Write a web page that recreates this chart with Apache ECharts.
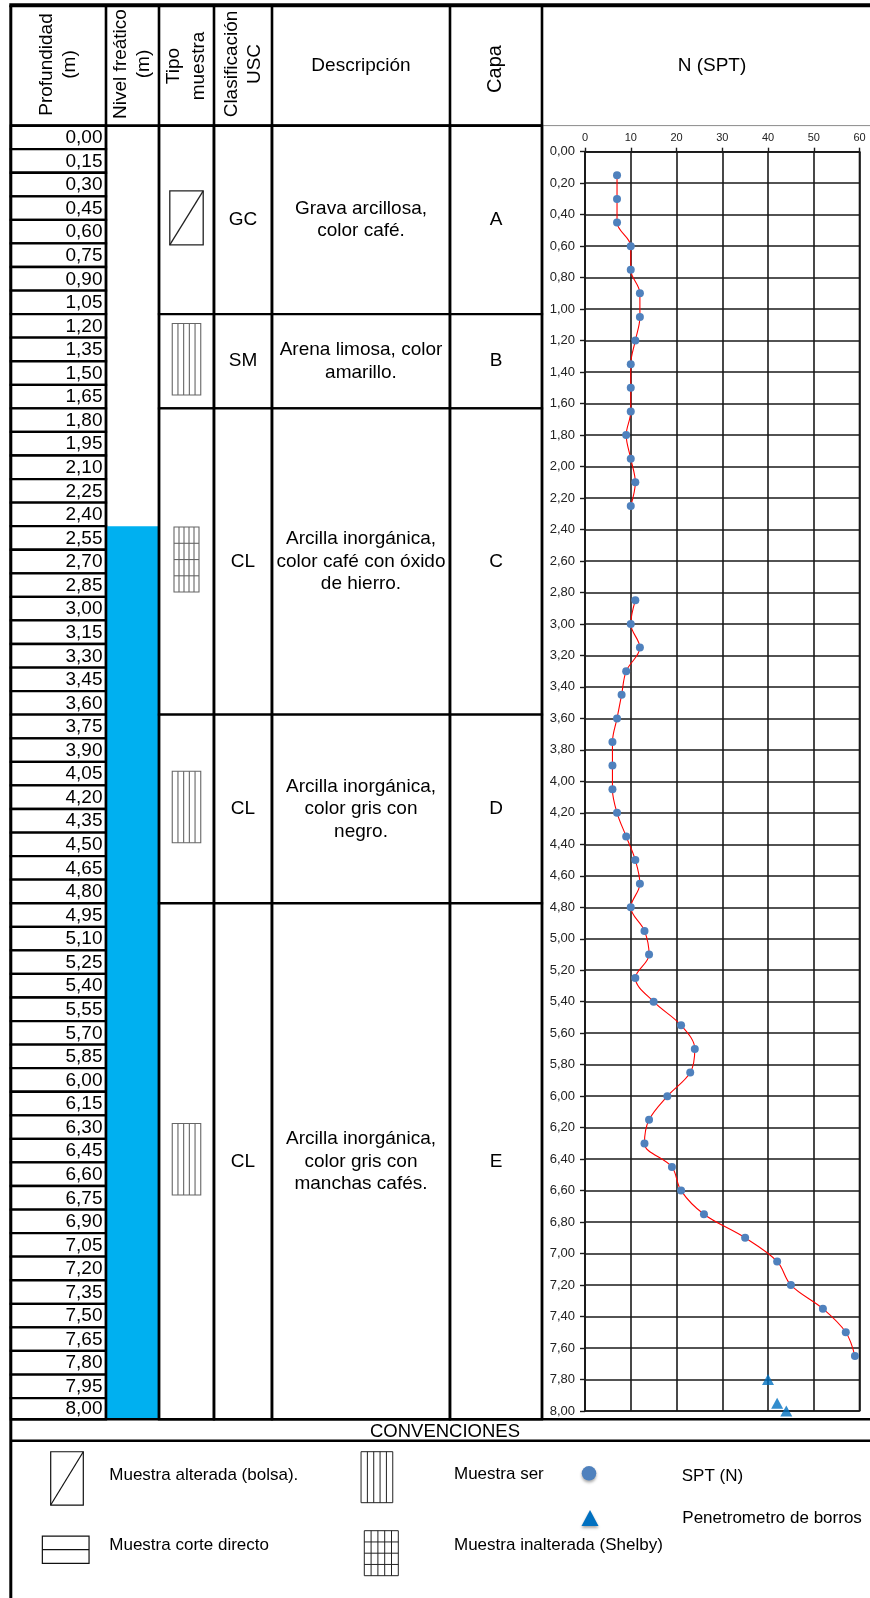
<!DOCTYPE html>
<html>
<head>
<meta charset="utf-8">
<title>Registro de perforación</title>
<script src="https://cdn.jsdelivr.net/npm/echarts@6/dist/echarts.min.js"></script>
<style>
  html, body { margin: 0; padding: 0; background: #fff; }
  #log { width: 870px; height: 1598px; }
</style>
</head>
<body>
<div id="log"></div>
<script>
// ---- Depth scale of the log (m) ----
const DEPTHS = [0.00, 0.15, 0.30, 0.45, 0.60, 0.75, 0.90, 1.05, 1.20, 1.35, 1.50, 1.65, 1.80, 1.95,
  2.10, 2.25, 2.40, 2.55, 2.70, 2.85, 3.00, 3.15, 3.30, 3.45, 3.60, 3.75, 3.90, 4.05, 4.20, 4.35,
  4.50, 4.65, 4.80, 4.95, 5.10, 5.25, 5.40, 5.55, 5.70, 5.85, 6.00, 6.15, 6.30, 6.45, 6.60, 6.75,
  6.90, 7.05, 7.20, 7.35, 7.50, 7.65, 7.80, 7.95, 8.00];

// ---- Water table (m) ----
const WATER_TOP = 2.55;
const WATER_BOTTOM = 8.00;

// ---- Soil layers ----
const LAYER_NAME = ['A', 'B', 'C', 'D', 'E'];
const LAYER_TOP = [0.00, 1.20, 1.80, 3.75, 4.95];
const LAYER_BOTTOM = [1.20, 1.80, 3.75, 4.95, 8.00];
const LAYER_USC = ['GC', 'SM', 'CL', 'CL', 'CL'];
const LAYER_SAMPLE = ['bolsa', 'servicio', 'shelby', 'servicio', 'servicio'];
const LAYER_DESC = [
  'Grava arcillosa,\ncolor café.',
  'Arena limosa, color\namarillo.',
  'Arcilla inorgánica,\ncolor café con óxido\nde hierro.',
  'Arcilla inorgánica,\ncolor gris con\nnegro.',
  'Arcilla inorgánica,\ncolor gris con\nmanchas cafés.'
];

// ---- SPT blow counts N vs depth (null = no test at that depth) ----
const SPT_DEPTH = [0.15, 0.30, 0.45, 0.60, 0.75, 0.90, 1.05, 1.20, 1.35, 1.50, 1.65, 1.80, 1.95,
  2.10, 2.25, 2.40, 2.55, 2.70, 2.85, 3.00, 3.15, 3.30, 3.45, 3.60, 3.75, 3.90, 4.05, 4.20, 4.35,
  4.50, 4.65, 4.80, 4.95, 5.10, 5.25, 5.40, 5.55, 5.70, 5.85, 6.00, 6.15, 6.30, 6.45, 6.60, 6.75,
  6.90, 7.05, 7.20, 7.35, 7.50, 7.65];
const SPT_N = [7, 7, 7, 10, 10, 12, 12, 11, 10, 10, 10, 9, 10,
  11, 10, null, null, null, 11, 10, 12, 9, 8, 7, 6, 6, 6, 7, 9,
  11, 12, 10, 13, 14, 11, 15, 21, 24, 23, 18, 14, 13, 19, 21, 26,
  35, 42, 45, 52, 57, 59];

// ---- Pocket penetrometer readings ----
const PEN_DEPTH = [7.80, 7.95, 8.00];
const PEN_VALUE = [40, 42, 44];

// ---- Axis ticks of the N (SPT) plot ----
const N_MIN = 0, N_MAX = 60, N_STEP = 10;
const Z_MIN = 0, Z_MAX = 8, Z_STEP = 0.2;

// ---- Layout (pixels) ----
const FONT = '"Liberation Sans", Arial, Helvetica, sans-serif';
const COL = { left: 10.8, depth: 106, water: 159, tipo: 214, usc: 272, desc: 450, capa: 542, right: 870 };
const TOP = 5.3, HEAD_BOTTOM = 125.6, TABLE_BOTTOM = 1419.3, CONV_BOTTOM = 1440.8, PAGE_BOTTOM = 1598;
const ROW_SPAN = DEPTHS.length - 1 + 0.9;   // last row of the sheet is slightly shorter
const LINE = '#000';
const SAMPLE_SIZE = { bolsa: [33.4, 54], servicio: [28.5, 71.5], shelby: [25, 65] };

const fmt = v => v.toFixed(2).replace('.', ',');

function rowOf(d) {
  const idx = DEPTHS.findIndex(v => Math.abs(v - d) < 1e-6);
  return idx === DEPTHS.length - 1 ? ROW_SPAN : idx;
}

// Sample-type pictogram: outlined rectangle with its hatch
function sampleIcon(kind, cx, cy, w, h, stroke, lw) {
  const x0 = cx - w / 2, y0 = cy - h / 2;
  const line = (x1, y1, x2, y2) => ({ type: 'line', shape: { x1, y1, x2, y2 }, style: { stroke, lineWidth: lw } });
  const kids = [{ type: 'rect', shape: { x: x0, y: y0, width: w, height: h }, style: { fill: '#fff', stroke, lineWidth: lw } }];
  if (kind === 'bolsa') kids.push(line(x0, y0 + h, x0 + w, y0));
  if (kind === 'servicio' || kind === 'shelby') {
    for (let k = 1; k < 5; k++) kids.push(line(x0 + w * k / 5, y0, x0 + w * k / 5, y0 + h));
  }
  if (kind === 'shelby') {
    for (let k = 1; k < 4; k++) kids.push(line(x0, y0 + h * k / 4, x0 + w, y0 + h * k / 4));
  }
  if (kind === 'corte') kids.push(line(x0, y0 + h / 2, x0 + w, y0 + h / 2));
  return kids;
}

function txt(text, x, y, size, opts) {
  opts = opts || {};
  return {
    type: 'text', x, y, rotation: opts.rotate || 0, z: 60,
    style: {
      text, fontSize: size, fontFamily: FONT, fill: '#000',
      align: opts.align || 'center', verticalAlign: 'middle', lineHeight: opts.lineHeight || size * 1.2
    }
  };
}
function hline(x1, x2, y, w, color) {
  return { type: 'line', z: 50, shape: { x1, y1: y, x2, y2: y }, style: { stroke: color || LINE, lineWidth: w } };
}
function vline(x, y1, y2, w) {
  return { type: 'line', z: 50, shape: { x1: x, y1, x2: x, y2 }, style: { stroke: LINE, lineWidth: w } };
}

// ---- Frame, header and conventions ----
const graphics = [
  hline(COL.left - 1.5, COL.right, TOP, 4),
  vline(COL.left, TOP, PAGE_BOTTOM, 3),
  hline(COL.left, COL.capa, HEAD_BOTTOM, 2.6),
  hline(COL.capa, COL.right, HEAD_BOTTOM, 1, '#8a8a8a'),
  hline(COL.left, COL.right, TABLE_BOTTOM, 2.6),
  hline(COL.left, COL.right, CONV_BOTTOM, 2.6),
  txt('Profundidad\n(m)', 58, 64.5, 19, { rotate: Math.PI / 2, lineHeight: 23 }),
  txt('Nivel freático\n(m)', 132.5, 64, 19, { rotate: Math.PI / 2, lineHeight: 23 }),
  txt('Tipo\nmuestra', 186.5, 66, 19, { rotate: Math.PI / 2, lineHeight: 25 }),
  txt('Clasificación\nUSC', 243, 64, 19, { rotate: Math.PI / 2, lineHeight: 23 }),
  txt('Descripción', 361, 66, 19),
  txt('Capa', 495, 69, 20, { rotate: Math.PI / 2 }),
  txt('N (SPT)', 712, 66, 19),
  txt('CONVENCIONES', 445, 1431.5, 18.5),
  txt('Muestra alterada (bolsa).', 109.3, 1475, 17, { align: 'left' }),
  txt('Muestra corte directo', 109.3, 1545, 17, { align: 'left' }),
  txt('Muestra ser', 454, 1474, 17, { align: 'left' }),
  txt('Muestra inalterada (Shelby)', 454, 1545, 17, { align: 'left' }),
  txt('SPT (N)', 681.7, 1476, 17, { align: 'left' }),
  txt('Penetrometro de borros', 682.3, 1518, 17, { align: 'left' }),
  { type: 'group', z: 60, children: sampleIcon('bolsa', 67, 1478.4, 32.6, 53.3, '#111', 1.2) },
  { type: 'group', z: 60, children: sampleIcon('corte', 65.7, 1549.7, 46.7, 27.3, '#111', 1.2) },
  { type: 'group', z: 60, children: sampleIcon('servicio', 376.9, 1477.2, 31.7, 51, '#222', 1) },
  { type: 'group', z: 60, children: sampleIcon('shelby', 381.3, 1553.2, 34, 45, '#222', 1) },
  { type: 'circle', z: 60, shape: { cx: 589, cy: 1473.3, r: 7.3 },
    style: { fill: '#4F81BD', shadowBlur: 3, shadowOffsetY: 2, shadowColor: 'rgba(0,0,0,0.35)' } },
  { type: 'polygon', z: 60, shape: { points: [[590, 1510], [598.5, 1526], [581.5, 1526]] },
    style: { fill: '#0070C0', shadowBlur: 3, shadowOffsetY: 2, shadowColor: 'rgba(0,0,0,0.35)' } }
];
[COL.depth, COL.water, COL.tipo, COL.usc, COL.desc, COL.capa].forEach(x => {
  graphics.push(vline(x, TOP, TABLE_BOTTOM, 2.6));
});

const option = {
  animation: false,
  backgroundColor: '#fff',
  grid: [
    { left: 0, top: HEAD_BOTTOM, width: 870, height: TABLE_BOTTOM - HEAD_BOTTOM, show: false, outerBoundsMode: 'none' },
    { left: 585, top: 151.7, width: 274.5, height: 1259.3, show: true, borderColor: '#1a1a1a', borderWidth: 1.6,
      backgroundColor: 'transparent', outerBoundsMode: 'none' }
  ],
  xAxis: [
    { gridIndex: 0, type: 'value', min: 0, max: 870, show: false },
    {
      gridIndex: 1, type: 'value', position: 'top', min: N_MIN, max: N_MAX, interval: N_STEP,
      axisLine: { show: true, lineStyle: { color: '#1a1a1a', width: 1.6 } },
      axisTick: { show: true, length: 4, lineStyle: { color: '#1a1a1a', width: 1.4 } },
      axisLabel: { fontSize: 11, fontFamily: FONT, color: '#222', margin: 8 },
      splitLine: { show: true, lineStyle: { color: '#1a1a1a', width: 1.6 } }
    }
  ],
  yAxis: [
    { gridIndex: 0, type: 'value', inverse: true, min: 0, max: ROW_SPAN, show: false },
    {
      gridIndex: 1, type: 'value', inverse: true, min: Z_MIN, max: Z_MAX, interval: Z_STEP,
      axisLine: { show: true, lineStyle: { color: '#1a1a1a', width: 1.6 } },
      axisTick: { show: true, length: 5, lineStyle: { color: '#1a1a1a', width: 1.4 } },
      axisLabel: { fontSize: 13, fontFamily: FONT, color: '#222', margin: 10, formatter: v => fmt(v) },
      splitLine: { show: true, lineStyle: { color: '#1a1a1a', width: 1.6 } }
    }
  ],
  series: [
    // depth column: one cell per sheet row
    {
      type: 'custom', xAxisIndex: 0, yAxisIndex: 0, silent: true, z: 2,
      data: DEPTHS.map((d, i) => [i, d]),
      renderItem(params, api) {
        const i = api.value(0);
        const a = api.coord([COL.left, i]);
        const b = api.coord([COL.depth, Math.min(i + 1, ROW_SPAN)]);
        return {
          type: 'group', children: [
            { type: 'rect', shape: { x: a[0], y: a[1], width: b[0] - a[0], height: b[1] - a[1] },
              style: { fill: '#fff', stroke: LINE, lineWidth: 2.3 } },
            { type: 'text', x: b[0] - 3.5, y: (a[1] + b[1]) / 2 + 0.5,
              style: { text: fmt(api.value(1)), fontSize: 19, fontFamily: FONT, fill: '#000', align: 'right', verticalAlign: 'middle' } }
          ]
        };
      }
    },
    // water table
    {
      type: 'custom', xAxisIndex: 0, yAxisIndex: 0, silent: true, z: 2,
      data: [[0, WATER_TOP, WATER_BOTTOM]],
      renderItem(params, api) {
        const a = api.coord([COL.depth, rowOf(api.value(1))]);
        const b = api.coord([COL.water, rowOf(api.value(2))]);
        return { type: 'rect', shape: { x: a[0], y: a[1], width: b[0] - a[0], height: b[1] - a[1] }, style: { fill: '#00B0F0' } };
      }
    },
    // soil layers: sample type, USC class, description, layer name
    {
      type: 'custom', xAxisIndex: 0, yAxisIndex: 0, silent: true, z: 3,
      data: LAYER_NAME.map((n, i) => [i, LAYER_TOP[i], LAYER_BOTTOM[i]]),
      renderItem(params, api) {
        const i = api.value(0);
        const yTop = api.coord([0, rowOf(api.value(1))])[1];
        const yBot = api.coord([0, rowOf(api.value(2))])[1];
        const cy = (yTop + yBot) / 2;
        const edges = [COL.water, COL.tipo, COL.usc, COL.desc, COL.capa].map(x => api.coord([x, 0])[0]);
        const kids = [];
        for (let k = 0; k < 4; k++) {
          kids.push({ type: 'rect', shape: { x: edges[k], y: yTop, width: edges[k + 1] - edges[k], height: yBot - yTop },
            style: { fill: '#fff', stroke: LINE, lineWidth: 2.3 } });
        }
        const kind = LAYER_SAMPLE[i];
        const sz = SAMPLE_SIZE[kind];
        const stroke = kind === 'bolsa' ? '#222' : '#666';
        sampleIcon(kind, (edges[0] + edges[1]) / 2, cy - 2, sz[0], sz[1], stroke, kind === 'bolsa' ? 1.3 : 1.1)
          .forEach(e => kids.push(e));
        const t = (text, x, lh) => ({ type: 'text', x, y: cy,
          style: { text, fontSize: 19, fontFamily: FONT, fill: '#000', align: 'center', verticalAlign: 'middle', lineHeight: lh || 23 } });
        kids.push(t(LAYER_USC[i], (edges[1] + edges[2]) / 2));
        kids.push(t(LAYER_DESC[i], (edges[2] + edges[3]) / 2, 22.5));
        kids.push(t(LAYER_NAME[i], (edges[3] + edges[4]) / 2));
        return { type: 'group', children: kids };
      }
    },
    // SPT profile
    {
      type: 'line', xAxisIndex: 1, yAxisIndex: 1, z: 5,
      data: SPT_DEPTH.map((d, i) => [SPT_N[i], d]),
      smooth: 0.35, connectNulls: false,
      symbol: 'circle', symbolSize: 8, showAllSymbol: true,
      itemStyle: { color: '#4F81BD' },
      lineStyle: { color: '#FF0000', width: 1.1 }
    },
    // pocket penetrometer
    {
      type: 'scatter', xAxisIndex: 1, yAxisIndex: 1, z: 6, clip: false,
      data: PEN_DEPTH.map((d, i) => [PEN_VALUE[i], d]),
      symbol: 'triangle', symbolSize: [12, 11],
      itemStyle: { color: '#0070C0' }
    }
  ],
  graphic: { elements: graphics }
};

const chart = echarts.init(document.getElementById('log'), null, { renderer: 'canvas' });
chart.setOption(option);
</script>
</body>
</html>
